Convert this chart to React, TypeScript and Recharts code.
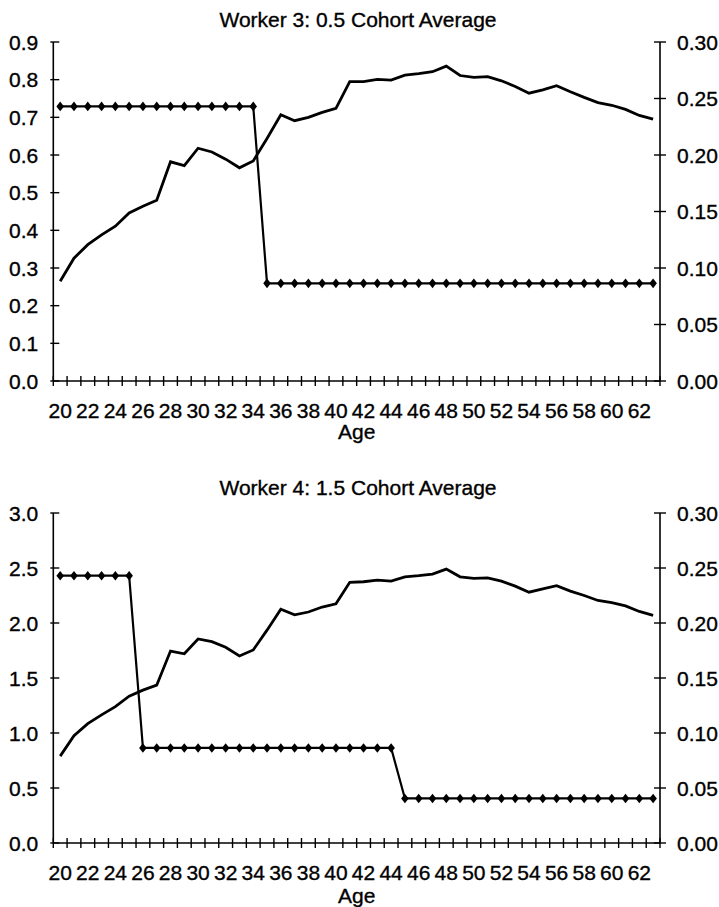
import React from 'react';
import { LineChart, Line, XAxis, YAxis, Label } from 'recharts';

const FONT = '"Liberation Sans", Arial, Helvetica, sans-serif';
const FS = 21;

const ages = [20, 21, 22, 23, 24, 25, 26, 27, 28, 29, 30, 31, 32, 33, 34, 35, 36, 37, 38, 39, 40, 41,
  42, 43, 44, 45, 46, 47, 48, 49, 50, 51, 52, 53, 54, 55, 56, 57, 58, 59, 60, 61, 62, 63];
const ageLabels = [20, 22, 24, 26, 28, 30, 32, 34, 36, 38, 40, 42, 44, 46, 48, 50, 52, 54, 56, 58, 60, 62];

const w3Earnings = [0.265, 0.326, 0.362, 0.388, 0.411, 0.446, 0.464, 0.480, 0.582, 0.572, 0.618, 0.608,
  0.589, 0.566, 0.584, 0.644, 0.707, 0.691, 0.700, 0.713, 0.724, 0.795, 0.795, 0.801, 0.799, 0.812,
  0.816, 0.821, 0.836, 0.811, 0.806, 0.808, 0.797, 0.782, 0.764, 0.773, 0.784, 0.768, 0.753, 0.739,
  0.732, 0.721, 0.705, 0.695];
const w3Rate = [0.243, 0.243, 0.243, 0.243, 0.243, 0.243, 0.243, 0.243, 0.243, 0.243, 0.243, 0.243,
  0.243, 0.243, 0.243, 0.0864, 0.0864, 0.0864, 0.0864, 0.0864, 0.0864, 0.0864, 0.0864, 0.0864, 0.0864,
  0.0864, 0.0864, 0.0864, 0.0864, 0.0864, 0.0864, 0.0864, 0.0864, 0.0864, 0.0864, 0.0864, 0.0864,
  0.0864, 0.0864, 0.0864, 0.0864, 0.0864, 0.0864, 0.0864];

const w4Earnings = [0.79, 0.975, 1.085, 1.165, 1.24, 1.335, 1.39, 1.435, 1.745, 1.72, 1.855, 1.83,
  1.78, 1.70, 1.755, 1.935, 2.125, 2.075, 2.10, 2.145, 2.175, 2.37, 2.375, 2.39, 2.38, 2.42, 2.43,
  2.445, 2.49, 2.42, 2.405, 2.41, 2.38, 2.335, 2.28, 2.31, 2.34, 2.29, 2.25, 2.205, 2.185, 2.155,
  2.105, 2.07];
const w4Rate = [0.243, 0.243, 0.243, 0.243, 0.243, 0.243, 0.0864, 0.0864, 0.0864, 0.0864, 0.0864,
  0.0864, 0.0864, 0.0864, 0.0864, 0.0864, 0.0864, 0.0864, 0.0864, 0.0864, 0.0864, 0.0864, 0.0864,
  0.0864, 0.0864, 0.0405, 0.0405, 0.0405, 0.0405, 0.0405, 0.0405, 0.0405, 0.0405, 0.0405, 0.0405,
  0.0405, 0.0405, 0.0405, 0.0405, 0.0405, 0.0405, 0.0405, 0.0405, 0.0405];

const w3LeftTicks = [0, 0.1, 0.2, 0.3, 0.4, 0.5, 0.6, 0.7, 0.8, 0.9];
const w4LeftTicks = [0, 0.5, 1.0, 1.5, 2.0, 2.5, 3.0];
const rightTicks = [0, 0.05, 0.1, 0.15, 0.2, 0.25, 0.3];

const titles = ['Worker 3: 0.5 Cohort Average', 'Worker 4: 1.5 Cohort Average'];

const data3 = ages.map((age, i) => ({ age, earn: w3Earnings[i], rate: w3Rate[i] }));
const data4 = ages.map((age, i) => ({ age, earn: w4Earnings[i], rate: w4Rate[i] }));

const xDomain: [number, number] = [ages[0] - 0.5, ages[ages.length - 1] + 0.5];
const xTicks = [...ages.map((a) => a - 0.5), ages[ages.length - 1] + 0.5, ...ageLabels];

const textStyle = { fontSize: FS, fontFamily: FONT, fill: '#000', stroke: '#000', strokeWidth: 0.35 };

const XTick = (props: any) => {
  const { x, y, payload } = props;
  const v = payload.value;
  if (!Number.isInteger(v)) {
    return <line x1={x} x2={x} y1={y - 5} y2={y + 5} stroke="#000" strokeWidth={1.4} />;
  }
  return (
    <text x={x} y={y + 37} textAnchor="middle" style={textStyle}>
      {v}
    </text>
  );
};

const LeftTick = (props: any) => {
  const { x, y, payload } = props;
  return (
    <g>
      <line x1={x - 3} x2={x + 6} y1={y} y2={y} stroke="#000" strokeWidth={1.4} />
      <text x={x - 15} y={y} dy="0.36em" textAnchor="end" style={textStyle}>
        {Number(payload.value).toFixed(1)}
      </text>
    </g>
  );
};

const RightTick = (props: any) => {
  const { x, y, payload } = props;
  return (
    <g>
      <line x1={x - 6} x2={x + 6} y1={y} y2={y} stroke="#000" strokeWidth={1.4} />
      <text x={x + 17} y={y} dy="0.36em" textAnchor="start" style={textStyle}>
        {Number(payload.value).toFixed(2)}
      </text>
    </g>
  );
};

const Diamond = (props: any) => {
  const { cx, cy } = props;
  if (cx == null || cy == null) return null;
  return (
    <path
      d={`M${cx},${cy - 4.8}L${cx + 3.8},${cy}L${cx},${cy + 4.8}L${cx - 3.8},${cy}Z`}
      fill="#000"
      stroke="none"
    />
  );
};

type PanelProps = {
  data: any[];
  top: number;
  height: number;
  marginTop: number;
  xAxisHeight: number;
  leftTicks: number[];
  title: string;
  titleTop: number;
  ageOffset: number;
};

const Panel = ({ data, top, height, marginTop, xAxisHeight, leftTicks, title, titleTop, ageOffset }: PanelProps) => (
  <div style={{ position: 'absolute', left: 0, top, width: 719, height }}>
    <div
      style={{
        position: 'absolute',
        left: 53,
        width: 610,
        top: titleTop,
        textAlign: 'center',
        fontFamily: FONT,
        fontSize: FS,
        lineHeight: `${FS}px`,
        color: '#000',
        WebkitTextStroke: '0.35px #000',
      }}
    >
      {title}
    </div>
    <LineChart width={719} height={height} data={data} margin={{ top: marginTop, right: 0, bottom: 0, left: 0 }}>
      <XAxis
        xAxisId="main"
        dataKey="age"
        type="number"
        domain={xDomain}
        ticks={xTicks}
        interval={0}
        tick={<XTick />}
        tickLine={false}
        tickSize={0}
        tickMargin={0}
        height={xAxisHeight}
        axisLine={{ stroke: '#000', strokeWidth: 1.6 }}
        allowDataOverflow
      >
        <Label value="Age" position="insideBottom" offset={ageOffset} style={textStyle} />
      </XAxis>
      <XAxis
        xAxisId="top"
        dataKey="age"
        type="number"
        orientation="top"
        domain={xDomain}
        tick={false}
        tickLine={false}
        height={0}
        axisLine={{ stroke: '#000', strokeWidth: 1.6 }}
        allowDataOverflow
      />
      <YAxis
        yAxisId="left"
        orientation="left"
        width={53.3}
        domain={[leftTicks[0], leftTicks[leftTicks.length - 1]]}
        ticks={leftTicks}
        interval={0}
        tick={<LeftTick />}
        tickLine={false}
        tickSize={0}
        tickMargin={0}
        axisLine={{ stroke: '#000', strokeWidth: 1.6 }}
        allowDataOverflow
      />
      <YAxis
        yAxisId="right"
        orientation="right"
        width={59}
        domain={[0, 0.3]}
        ticks={rightTicks}
        interval={0}
        tick={<RightTick />}
        tickLine={false}
        tickSize={0}
        tickMargin={0}
        axisLine={{ stroke: '#000', strokeWidth: 1.6 }}
        allowDataOverflow
      />
      <Line
        xAxisId="main"
        yAxisId="left"
        type="linear"
        dataKey="earn"
        stroke="#000"
        strokeWidth={2.8}
        dot={false}
        isAnimationActive={false}
      />
      <Line
        xAxisId="main"
        yAxisId="right"
        type="linear"
        dataKey="rate"
        stroke="#000"
        strokeWidth={2.2}
        dot={<Diamond />}
        activeDot={false}
        isAnimationActive={false}
      />
    </LineChart>
  </div>
);

export default function App() {
  return (
    <div style={{ position: 'absolute', left: 0, top: 0, width: 719, height: 907, overflow: 'hidden', background: '#fff' }}>
      <Panel
        data={data3}
        top={0}
        height={452}
        marginTop={42}
        xAxisHeight={71}
        leftTicks={w3LeftTicks}
        title={titles[0]}
        titleTop={9}
        ageOffset={13}
      />
      <Panel
        data={data4}
        top={460}
        height={447}
        marginTop={53}
        xAxisHeight={64}
        leftTicks={w4LeftTicks}
        title={titles[1]}
        titleTop={17}
        ageOffset={4}
      />
    </div>
  );
}
